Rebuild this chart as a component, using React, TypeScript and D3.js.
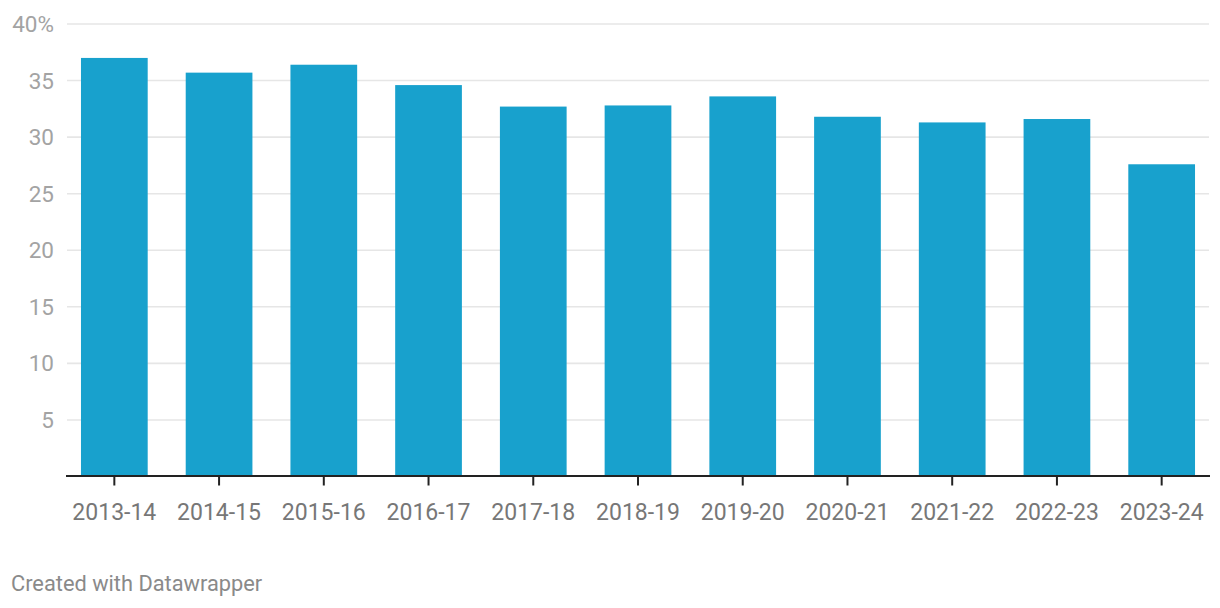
import React from "react";
import * as d3 from "d3";

const categories = ["2013-14","2014-15","2015-16","2016-17","2017-18","2018-19","2019-20","2020-21","2021-22","2022-23","2023-24"];
const values = [37.0, 35.7, 36.4, 34.6, 32.7, 32.8, 33.6, 31.8, 31.3, 31.6, 27.6];
const yTicks = [5, 10, 15, 20, 25, 30, 35, 40];

const W = 1220, H = 608;
const FONT = "Roboto, 'Noto Sans', sans-serif";

export default function App() {
  const x = d3.scaleBand<string>().domain(categories).range([66, 1210]).paddingInner(0.363).paddingOuter(0.143);
  const y = d3.scaleLinear().domain([0, 40]).range([476.5, 24]);
  const baseY = 476;
  return (
    <svg width={W} height={H} style={{ position: "absolute", left: 0, top: 0, display: "block", background: "#fff" }}>
      {yTicks.map((t) => (
        <g key={t}>
          <line x1={67} x2={1209} y1={y(t)} y2={y(t)} stroke="#e6e6e6" strokeWidth={1.6} />
          <text x={54} y={y(t) + 8} textAnchor="end" fontFamily={FONT} fontSize={22.5} fill="#a3a3a3">
            {t === 40 ? "40%" : t}
          </text>
        </g>
      ))}
      {categories.map((c, i) => (
        <rect key={c} x={x(c)} width={x.bandwidth()} y={y(values[i])} height={baseY - y(values[i])} fill="#18a1cd" />
      ))}
      <line x1={66} x2={1210} y1={baseY} y2={baseY} stroke="#222" strokeWidth={2} />
      {categories.map((c) => {
        const cx = (x(c) as number) + x.bandwidth() / 2;
        return (
          <g key={c}>
            <line x1={cx} x2={cx} y1={baseY} y2={485.5} stroke="#222" strokeWidth={2} />
            <text x={cx} y={520} textAnchor="middle" fontFamily={FONT} fontSize={23} fill="#777">{c}</text>
          </g>
        );
      })}
      <text x={11} y={591} fontFamily={FONT} fontSize={21.8} fill="#8a8a8a">Created with Datawrapper</text>
    </svg>
  );
}
